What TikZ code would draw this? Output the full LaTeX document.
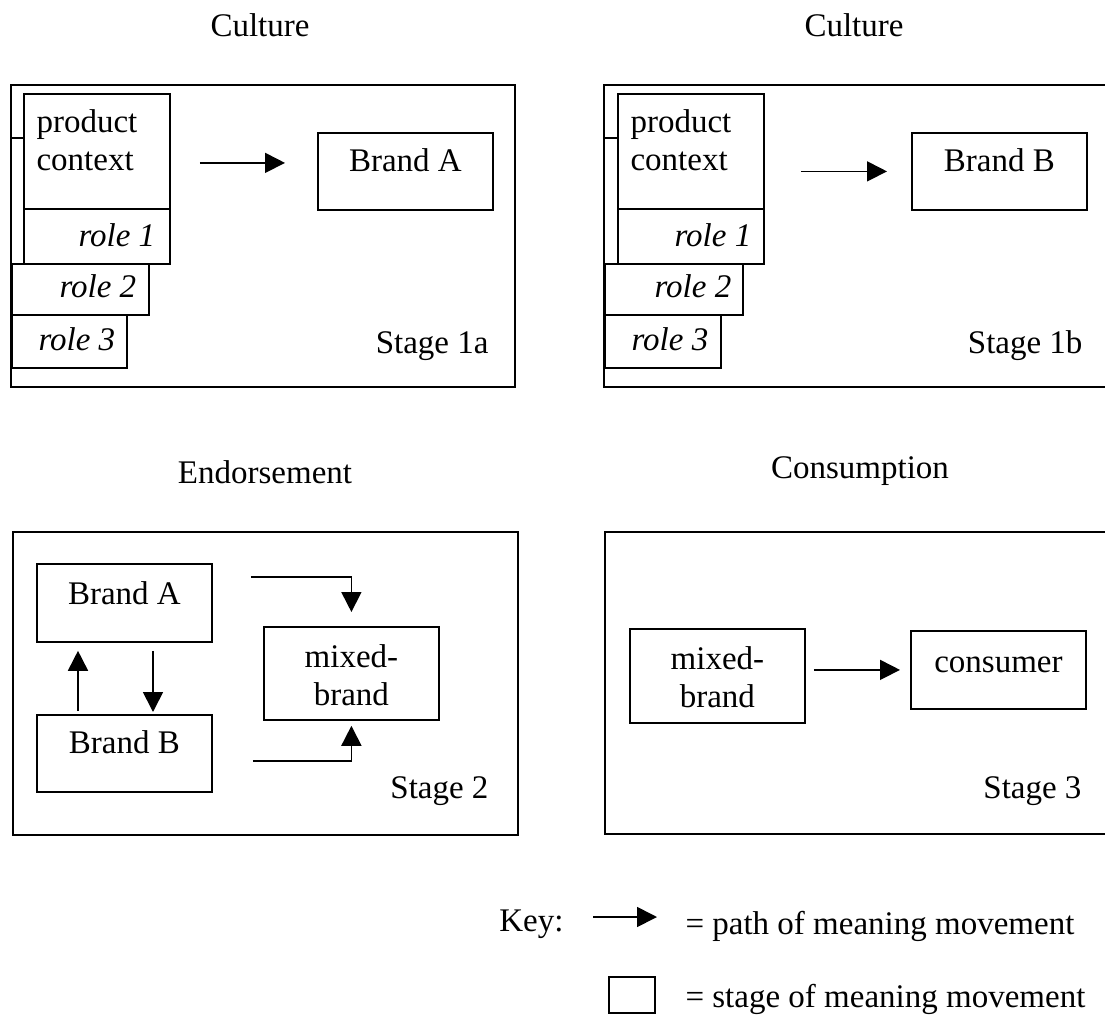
\documentclass[tikz,border=0pt]{standalone}
\usepackage{fontspec}
\setmainfont{Liberation Serif}
\usetikzlibrary{arrows.meta}

\begin{document}
\begin{tikzpicture}[x=1pt, y=-1pt,
        every node/.append style={font=\fontsize{33}{38}\selectfont},
        wbox/.style={draw, line width=1.8pt, inner sep=0pt, anchor=north west},
        wh/.style 2 args={minimum width=#1pt, minimum height=#2pt},
        lbl/.style={anchor=base, yshift=-40pt},
        arr/.style={line width=1.7pt, -{Triangle[length=20pt, width=20pt]}},]
        \useasboundingbox (0,0) rectangle (1105,1016);

        % Titles
        \node[anchor=base] (t1a) at (260,37)  {Culture};
        \node[anchor=base] (t1b) at (854,37)  {Culture};
        \node[anchor=base] (t2)  at (265,483) {Endorsement};
        \node[anchor=base] (t3)  at (860,478) {Consumption};

        % Stage 1a
        \node[wbox, wh={504}{302}] (s1a) at (10,84) {};
        \node[wbox, wh={146}{115}, label={[anchor=base west, xshift=10pt, yshift=-78pt, align=left]north west:product\\context}] (pc1a) at (23,93) {};
        \node[wbox, wh={146}{55}, label={[anchor=base east, xshift=-12pt, yshift=-39pt]north east:\itshape role 1}] (r1a) at (23,208) {};
        \node[wbox, wh={137}{51}, label={[anchor=base east, xshift=-10pt, yshift=-34pt]north east:\itshape role 2}] (r2a) at (11,263) {};
        \node[wbox, wh={115}{53}, label={[anchor=base east, xshift=-9pt, yshift=-36pt]north east:\itshape role 3}] (r3a) at (11,314) {};
        \node[wbox, wh={175}{77}, label={[lbl]north:Brand A}] (bA1) at (317,132) {};
        \node[anchor=base east] (st1a) at (492,353) {Stage 1a};
        \draw[line width=1.8pt] ([yshift=-45pt]pc1a.north west) -- ([yshift=-45pt]pc1a.north west -| s1a.west);
        \draw[arr, shorten <=29pt, shorten >=32pt] ([yshift=8.5pt]pc1a.east |- bA1.west) -- ([yshift=8.5pt]bA1.west);

        % Stage 1b
        \node[wbox, wh={504}{302}] (s1b) at (603,84) {};
        \node[wbox, wh={146}{115}, label={[anchor=base west, xshift=10pt, yshift=-78pt, align=left]north west:product\\context}] (pc1b) at (617,93) {};
        \node[wbox, wh={146}{55}, label={[anchor=base east, xshift=-10pt, yshift=-39pt]north east:\itshape role 1}] (r1b) at (617,208) {};
        \node[wbox, wh={138}{51}, label={[anchor=base east, xshift=-9pt, yshift=-34pt]north east:\itshape role 2}] (r2b) at (604,263) {};
        \node[wbox, wh={116}{53}, label={[anchor=base east, xshift=-10pt, yshift=-36pt]north east:\itshape role 3}] (r3b) at (604,314) {};
        \node[wbox, wh={175}{77}, label={[lbl]north:Brand B}] (bB1) at (911,132) {};
        \node[anchor=base east] (st1b) at (1086,353) {Stage 1b};
        \draw[line width=1.8pt] ([yshift=-45pt]pc1b.north west) -- ([yshift=-45pt]pc1b.north west -| s1b.west);
        \draw[arr, shorten <=36pt, shorten >=24pt] (pc1b.east |- bB1.west) -- (bB1.west);

        % Stage 2
        \node[wbox, wh={505}{303}] (s2) at (12,531) {};
        \node[wbox, wh={175}{78}, label={[lbl, yshift=-1pt]north:Brand A}] (bA2) at (36,563) {};
        \node[wbox, wh={175}{77}, label={[lbl, yshift=1pt]north:Brand B}] (bB2) at (36,714) {};
        \node[wbox, wh={175}{93}, label={[lbl, yshift=-39pt, align=center]north:mixed-\\brand}] (mb2) at (263,626) {};
        \node[anchor=base east] (st2) at (492,798) {Stage 2};
        \draw[arr, shorten <=3pt, shorten >=8pt] ([xshift=42pt]bB2.north west) -- ([xshift=42pt]bA2.south west);
        \draw[arr, shorten <=8pt, shorten >=2pt] ([xshift=117pt]bA2.south west) -- ([xshift=117pt]bB2.north west);
        \draw[arr, shorten >=14pt] ([xshift=38pt, yshift=-14pt]bA2.north east) -| (mb2.north);
        \draw[arr, shorten >=5pt] ([xshift=40pt, yshift=32pt]bB2.south east) -| (mb2.south);

        % Stage 3
        \node[wbox, wh={503}{302}] (s3) at (604,531) {};
        \node[wbox, wh={175}{94}, label={[lbl, yshift=-39pt, align=center]north:mixed-\\brand}] (mb3) at (629,628) {};
        \node[wbox, wh={175}{78}, label={[lbl, yshift=-2pt]north:consumer}] (con3) at (910,630) {};
        \node[anchor=base east] (st3) at (1085,798) {Stage 3};
        \draw[arr, shorten <=8pt, shorten >=10pt] (mb3.east |- con3.west) -- (con3.west);

        % Key
        \node[anchor=base east] (key) at (567,931) {Key:};
        \node[anchor=base west] (lpath) at (682,934) {= path of meaning movement};
        \node[wbox, wh={46}{36}] (kbox) at (608,976) {};
        \node[anchor=base west] (lstage) at (682,1007) {= stage of meaning movement};
        \draw[arr] ([xshift=26pt, yshift=14pt]key.base east) -- ([xshift=-25pt, yshift=17pt]lpath.base west);
    \end{tikzpicture}
\end{document}
